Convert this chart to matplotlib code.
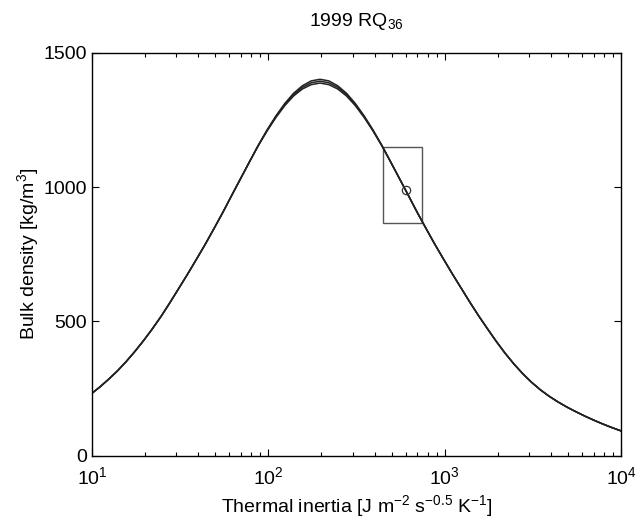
import numpy as np
import matplotlib
matplotlib.use("Agg")
import matplotlib.pyplot as plt
from matplotlib.patches import Rectangle

plt.rcParams['font.family'] = ['Liberation Sans', 'DejaVu Sans']
plt.rcParams['mathtext.fontset'] = 'custom'
plt.rcParams['mathtext.rm'] = 'Liberation Sans'
plt.rcParams['mathtext.it'] = 'Liberation Sans:italic'
plt.rcParams['mathtext.bf'] = 'Liberation Sans:bold'
plt.rcParams['mathtext.default'] = 'regular'

# Thermal inertia (x) and bulk density (y)
inertia = [9.84, 11.04, 12.39, 13.90, 15.60, 17.50, 19.63, 22.03, 24.72, 27.73,
           31.12, 34.91, 39.17, 43.95, 49.32, 55.33, 62.09, 69.66, 78.16, 87.70,
           98.40, 110.41, 123.88, 139.00, 155.96, 174.99, 196.34,
           220.30, 247.18, 277.34, 311.18, 349.15, 391.75, 439.55, 493.18, 553.36, 620.88,
           696.64, 781.64, 877.01, 984.02, 1104.1, 1238.8, 1390.0, 1559.6, 1749.9, 1963.4,
           2203.0, 2471.8, 2773.4, 3111.8, 3491.5, 3917.5, 4395.5, 4931.9, 5533.7, 6208.9,
           6966.5, 7816.5, 8770.2, 9840.3, 11041]
rho_mid = [229, 255, 284, 315, 350, 388, 429, 473, 520, 571,
           624, 677, 732, 788, 847, 907, 970, 1032, 1094, 1155,
           1211, 1262, 1307, 1344, 1371, 1388, 1394,
           1388, 1371, 1344, 1307, 1262, 1211, 1155, 1094, 1032, 970,
           907, 847, 788, 732, 677, 624, 571, 520, 472, 425,
           381, 341, 305, 273, 245, 221, 200, 181, 164, 148,
           133, 119, 106, 94, 83]
rho_high = [229, 255, 284, 315, 350, 388, 429, 473, 520, 571,
            624, 677, 732, 788, 847, 907, 970, 1032, 1094, 1156,
            1213, 1265, 1311, 1349, 1377, 1395, 1401,
            1395, 1377, 1349, 1311, 1265, 1213, 1156, 1094, 1032, 970,
            907, 847, 788, 732, 677, 624, 571, 520, 472, 425,
            381, 341, 305, 273, 245, 221, 200, 181, 164, 148,
            133, 119, 106, 94, 83]
rho_low = [229, 255, 284, 315, 350, 388, 429, 473, 520, 571,
           624, 677, 732, 788, 847, 907, 970, 1032, 1094, 1154,
           1209, 1259, 1303, 1339, 1365, 1381, 1387,
           1381, 1365, 1339, 1303, 1259, 1209, 1154, 1094, 1032, 970,
           907, 847, 788, 732, 677, 624, 571, 520, 472, 425,
           381, 341, 305, 273, 245, 221, 200, 181, 164, 148,
           133, 119, 106, 94, 83]

# Best estimate and uncertainty box
best_inertia = 600
best_rho = 990
box_inertia = [449, 743]
box_rho = [866, 1148]

fig = plt.figure(figsize=(6.36, 5.28), dpi=100)
ax = fig.add_axes([0.1447, 0.1369, 0.8318, 0.7633])

for r in (rho_low, rho_mid, rho_high):
    ax.plot(inertia, r, color='#222222', lw=1.1, solid_joinstyle='round')

ax.add_patch(Rectangle((box_inertia[0], box_rho[0]),
                       box_inertia[1] - box_inertia[0], box_rho[1] - box_rho[0],
                       fill=False, edgecolor='#555555', lw=1.0))
ax.plot([best_inertia], [best_rho], marker='o', mfc='none', mec='#333333',
        ms=6, mew=0.9, ls='none')

ax.set_xscale('log')
ax.set_xlim(10, 1e4)
ax.set_ylim(0, 1500)
ax.set_yticks([0, 500, 1000, 1500])

ax.tick_params(which='both', direction='in', top=True, right=True,
               labelsize=14, width=0.8)
ax.tick_params(which='major', length=5)
ax.tick_params(axis='x', which='major', pad=7.5)
ax.tick_params(axis='y', which='major', pad=3.5)
ax.tick_params(which='minor', length=3)
for s in ax.spines.values():
    s.set_linewidth(1.0)

ax.set_title('1999 RQ$_{36}$', fontsize=14, pad=19)
ax.set_xlabel('Thermal inertia [J m$^{-2}$ s$^{-0.5}$ K$^{-1}$]', fontsize=14, labelpad=4)
ax.set_ylabel('Bulk density [kg/m$^{3}$]', fontsize=14)
ax.yaxis.set_label_coords(-0.097, 0.5)

fig.savefig('out.png', dpi=100)
